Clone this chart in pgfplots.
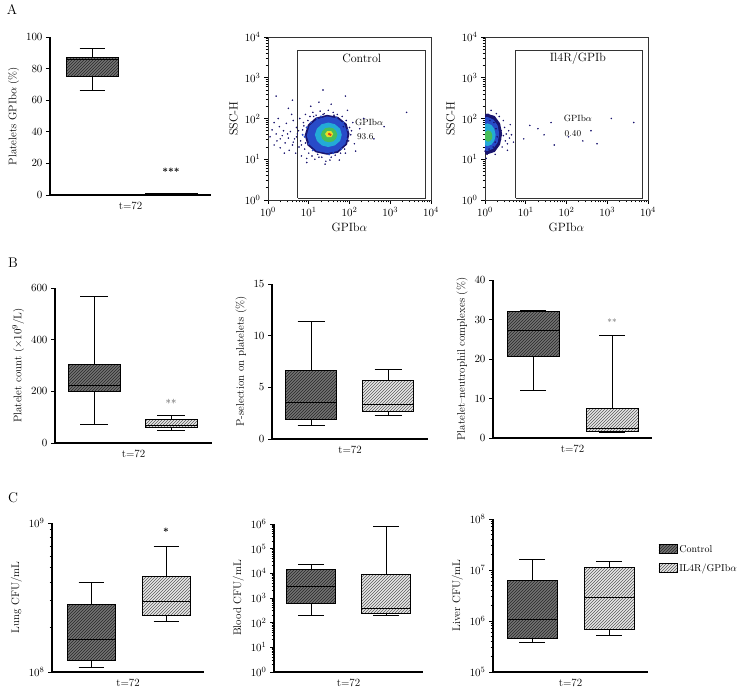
\documentclass[border=0pt]{standalone}
\usepackage{pgfplots}
\pgfplotsset{compat=1.18}
\usepgfplotslibrary{statistics}
\usetikzlibrary{patterns}

\definecolor{ctrlfill}{RGB}{115,115,115}
\definecolor{ctrlline}{RGB}{40,40,40}
\definecolor{ilfill}{RGB}{232,232,232}
\definecolor{illine}{RGB}{90,90,90}
\definecolor{flownavy}{RGB}{25,20,110}
\definecolor{flowblue}{RGB}{40,75,200}
\definecolor{flowcyan}{RGB}{35,170,215}
\definecolor{flowgreen}{RGB}{70,190,90}
\definecolor{flowyellow}{RGB}{235,220,40}
\definecolor{flowred}{RGB}{220,60,30}

\tikzset{
  ctrlhatch/.style={postaction={pattern=north east lines, pattern color=ctrlline}},
  ilhatch/.style={postaction={pattern=north east lines, pattern color=illine}},
  ctrl/.style={draw=black, line width=1pt, solid, fill=ctrlfill},
  ilgp/.style={draw=black, line width=1pt, solid, fill=ilfill},
}

\pgfplotsset{
  panel/.style={scale only axis, clip=false, anchor=south west,
    font=\fontsize{11}{13}\selectfont,
    axis line style={line width=1.1pt},
    every tick/.style={line width=0.9pt, black},
    tick align=outside, major tick length=4pt, minor tick length=2.5pt},
  boxpanel/.style={panel, axis lines*=left, xtick=\empty, xlabel={t=72}, xmin=0,
    boxplot/draw direction=y},
  cbox/.style={ctrl, boxplot/every box/.append style={ctrlhatch}},
  ibox/.style={ilgp, boxplot/every box/.append style={ilhatch}},
  flowpanel/.style={panel, clip=true, xmin=0, xmax=4, ymin=0, ymax=4,
    xtick={0,1,2,3,4}, ytick={0,1,2,3,4},
    xticklabels={$10^0$,$10^1$,$10^2$,$10^3$,$10^4$},
    yticklabels={$10^0$,$10^1$,$10^2$,$10^3$,$10^4$},
    minor xtick={0.301,0.477,0.602,0.699,0.778,0.845,0.903,0.954,
      1.301,1.477,1.602,1.699,1.778,1.845,1.903,1.954,
      2.301,2.477,2.602,2.699,2.778,2.845,2.903,2.954,
      3.301,3.477,3.602,3.699,3.778,3.845,3.903,3.954},
    minor ytick={0.301,0.477,0.602,0.699,0.778,0.845,0.903,0.954,
      1.301,1.477,1.602,1.699,1.778,1.845,1.903,1.954,
      2.301,2.477,2.602,2.699,2.778,2.845,2.903,2.954,
      3.301,3.477,3.602,3.699,3.778,3.845,3.903,3.954},
    tick pos=left, axis line style={line width=0.8pt, black!80},
    xlabel={GPIb$\alpha$}, ylabel={SSC-H},
    label style={font=\fontsize{12}{14}\selectfont}},
  dots/.style={only marks, mark=*, mark size=0.55pt},
}

\begin{document}
\begin{tikzpicture}
\useasboundingbox (0,0) rectangle (746pt,693pt);

\node[font=\fontsize{14}{16}\selectfont] at (12pt,683pt) {A};
\node[font=\fontsize{14}{16}\selectfont] at (13pt,430pt) {B};
\node[font=\fontsize{14}{16}\selectfont] at (13pt,195pt) {C};

% ---------- A: GPIb alpha on platelets
\begin{axis}[boxpanel, at={(50pt,498pt)}, width=161pt, height=158pt,
  xmax=161, ymin=0, ymax=100, ytick={0,20,40,60,80,100},
  ylabel={Platelets GPIb$\alpha$ (\%)}]
\addplot[cbox, boxplot prepared={draw position=42, box extend=52, whisker extend=25,
  lower whisker=66, lower quartile=75, median=85.5, upper quartile=87, upper whisker=93}] coordinates {};
\addplot[ilgp, fill=black, boxplot prepared={draw position=121, box extend=52, whisker extend=25,
  lower whisker=0.2, lower quartile=0.3, median=0.6, upper quartile=0.9, upper whisker=1.0}] coordinates {};
\node[font=\bfseries] at (axis cs:121,15) {***};
\end{axis}

% ---------- A: flow, control
\begin{axis}[flowpanel, at={(268pt,493pt)}, width=163pt, height=163pt]
\addplot[dots, flownavy] coordinates {
(0.05,1.55)(0.1,1.72)(0.15,1.35)(0.2,1.62)(0.22,1.45)(0.28,1.8)(0.3,1.28)(0.35,1.58)
(0.38,1.7)(0.42,1.4)(0.45,1.88)(0.5,1.52)(0.52,1.22)(0.55,1.68)(0.6,1.35)(0.62,1.95)
(0.65,1.5)(0.68,1.15)(0.7,1.78)(0.72,1.62)(0.76,1.3)(0.78,2.0)(0.8,1.45)(0.82,1.08)
(0.85,1.72)(0.87,1.9)(0.9,1.25)(0.92,2.1)(0.95,1.02)(0.98,1.95)(1.0,1.15)(1.03,2.05)
(1.08,1.08)(1.1,2.15)(1.15,1.0)(1.18,2.08)(1.22,1.12)(1.28,2.18)(1.32,1.05)(1.38,2.12)
(1.42,0.95)(1.48,2.2)(1.55,1.05)(1.6,2.15)(1.65,1.1)(1.7,2.1)(1.78,1.15)(1.82,2.05)
(1.88,1.25)(1.92,1.95)(1.98,1.45)(2.0,1.78)(2.03,1.6)(2.08,1.9)(2.12,1.38)(0.25,2.0)
(0.4,1.15)(0.58,2.1)(1.05,2.3)(1.55,2.35)(1.95,2.2)(2.25,1.75)(0.5,2.25)(1.25,2.4)
(2.35,2.0)(2.85,1.8)(3.4,2.15)(1.9,2.55)(0.15,1.9)(2.6,1.5)(1.4,0.88)(0.95,0.92)
(1.75,0.98)(2.15,1.2)(0.2,2.55)(1.35,2.7)(0.6,2.45)
(0.3,1.5)(0.48,1.62)(0.62,1.42)(0.7,1.55)(0.75,1.7)(0.82,1.35)(0.88,1.82)(0.92,1.4)
(1.12,2.05)(1.35,2.1)(1.62,2.08)(1.85,1.8)(2.05,1.7)(1.9,1.15)(1.25,1.05)(1.52,0.98)};
\addplot[fill=flownavy, draw=none] coordinates {
(2.0,1.62)(1.93,1.87)(1.72,2.04)(1.45,2.09)(1.17,2.02)(0.98,1.85)
(0.9,1.59)(0.97,1.34)(1.17,1.17)(1.45,1.11)(1.72,1.16)(1.94,1.36)};
\addplot[fill=flowblue, draw=none] coordinates {
(1.95,1.62)(1.88,1.85)(1.70,2.0)(1.45,2.05)(1.2,1.98)(1.02,1.82)
(0.95,1.58)(1.02,1.36)(1.2,1.2)(1.45,1.15)(1.7,1.2)(1.9,1.38)};
\addplot[dots, mark size=0.8pt, flowblue] coordinates {
(0.9,1.55)(0.95,1.78)(1.0,1.38)(1.05,1.9)(1.1,1.22)(1.3,2.05)(1.5,1.12)(1.68,2.02)
(1.8,1.25)(1.93,1.5)(1.95,1.72)(1.2,2.0)(1.6,1.15)(0.85,1.6)(1.85,1.9)};
\addplot[fill=flowcyan, draw=none] coordinates {
(1.81,1.6)(1.77,1.75)(1.64,1.86)(1.48,1.9)(1.32,1.86)(1.2,1.75)
(1.15,1.6)(1.2,1.45)(1.32,1.34)(1.48,1.3)(1.64,1.34)(1.77,1.45)};
\addplot[fill=flowgreen, draw=none] coordinates {
(1.7,1.6)(1.67,1.69)(1.6,1.76)(1.5,1.78)(1.4,1.76)(1.33,1.69)
(1.3,1.6)(1.33,1.51)(1.4,1.44)(1.5,1.42)(1.6,1.44)(1.67,1.51)};
\addplot[fill=flowyellow, draw=none] coordinates {
(1.6,1.62)(1.55,1.69)(1.45,1.69)(1.4,1.62)(1.45,1.54)(1.55,1.54)};
\addplot[dots, mark size=1pt, flowred] coordinates {(1.5,1.62)(1.53,1.6)};
\addplot[draw=black!80, line width=0.8pt] coordinates {
(0.73,0.05)(3.87,0.05)(3.87,3.68)(0.73,3.68)(0.73,0.05)};
\node[font=\fontsize{12}{14}\selectfont] at (axis cs:2.3,3.48) {Control};
\node[anchor=west, font=\fontsize{9}{11}\selectfont] at (axis cs:2.05,1.91) {GPIb$\alpha$};
\node[anchor=west, font=\fontsize{9}{11}\selectfont] at (axis cs:2.1,1.55) {93.6};
\end{axis}

% ---------- A: flow, IL4R/GPIb
\begin{axis}[flowpanel, at={(485pt,493pt)}, width=163pt, height=163pt]
\addplot[dots, flownavy] coordinates {
(0.0,1.2)(0.02,2.05)(0.05,1.12)(0.08,2.1)(0.1,1.25)(0.12,1.95)(0.15,1.18)(0.18,2.0)
(0.2,1.3)(0.22,1.9)(0.25,1.42)(0.27,1.75)(0.3,1.55)(0.32,1.35)(0.34,1.85)(0.36,1.62)
(0.38,1.48)(0.4,1.7)(0.42,1.3)(0.45,1.58)(0.48,1.78)(0.5,1.45)(0.52,1.62)(0.55,1.38)
(0.58,1.7)(0.6,1.52)(0.62,1.85)(0.65,1.6)(0.35,2.05)(0.25,1.12)(0.45,1.95)(0.7,1.42)
(0.03,1.02)(0.15,2.2)(0.55,1.22)(0.28,2.12)
(1.1,1.83)(1.3,1.75)(1.45,1.6)(1.62,1.9)(2.05,1.55)(2.6,1.7)(3.1,2.0)(3.65,1.9)
(1.7,1.35)(2.4,1.45)(2.75,1.38)(0.95,1.5)};
\addplot[fill=flownavy, draw=none] coordinates {
(0.42,1.62)(0.37,1.88)(0.24,2.06)(0.05,2.12)(-0.1,2.06)(-0.2,1.88)
(-0.25,1.62)(-0.2,1.36)(-0.1,1.18)(0.05,1.12)(0.24,1.18)(0.37,1.36)};
\addplot[fill=flowblue, draw=none] coordinates {
(0.35,1.62)(0.31,1.83)(0.2,1.98)(0.05,2.04)(-0.1,1.98)(-0.2,1.83)
(-0.25,1.62)(-0.2,1.41)(-0.1,1.26)(0.05,1.2)(0.2,1.26)(0.31,1.41)};
\addplot[fill=flowcyan, draw=none] coordinates {
(0.26,1.6)(0.23,1.74)(0.16,1.84)(0.06,1.88)(-0.04,1.84)(-0.11,1.74)
(-0.14,1.6)(-0.11,1.46)(-0.04,1.36)(0.06,1.32)(0.16,1.36)(0.23,1.46)};
\addplot[fill=flowgreen, draw=none] coordinates {
(0.18,1.57)(0.165,1.64)(0.13,1.69)(0.08,1.71)(0.03,1.69)(-0.005,1.64)
(-0.02,1.57)(-0.005,1.5)(0.03,1.45)(0.08,1.43)(0.13,1.45)(0.165,1.5)};
\addplot[draw=black!80, line width=0.8pt] coordinates {
(0.75,0.05)(3.87,0.05)(3.87,3.68)(0.75,3.68)(0.75,0.05)};
\node[font=\fontsize{12}{14}\selectfont] at (axis cs:2.28,3.48) {Il4R/GPIb};
\node[anchor=west, font=\fontsize{9}{11}\selectfont] at (axis cs:1.85,2.01) {GPIb$\alpha$};
\node[anchor=west, font=\fontsize{9}{11}\selectfont] at (axis cs:1.87,1.64) {0.40};
\end{axis}

% ---------- B: platelet count
\begin{axis}[boxpanel, at={(55pt,250pt)}, width=157pt, height=155pt,
  xmax=157, ymin=0, ymax=600, ytick={0,200,400,600},
  ylabel={Platelet count ($\times10^9$/L)}]
\addplot[cbox, boxplot prepared={draw position=39, box extend=52, whisker extend=28,
  lower whisker=72, lower quartile=198, median=223, upper quartile=305, upper whisker=568}] coordinates {};
\addplot[ibox, boxplot prepared={draw position=116, box extend=52, whisker extend=28,
  lower whisker=48, lower quartile=60, median=67, upper quartile=90, upper whisker=105}] coordinates {};
\node[text=black!70] at (axis cs:116,152) {**};
\end{axis}

% ---------- B: P-selectin
\begin{axis}[boxpanel, at={(272pt,254pt)}, width=156pt, height=155pt,
  xmax=156, ymin=0, ymax=15, ytick={0,5,10,15},
  ylabel={P-selection on platelets (\%)}]
\addplot[cbox, boxplot prepared={draw position=39, box extend=51, whisker extend=27,
  lower whisker=1.26, lower quartile=1.9, median=3.55, upper quartile=6.6, upper whisker=11.35}] coordinates {};
\addplot[ibox, boxplot prepared={draw position=116, box extend=51, whisker extend=27,
  lower whisker=2.29, lower quartile=2.7, median=3.32, upper quartile=5.7, upper whisker=6.75}] coordinates {};
\end{axis}

% ---------- B: platelet-neutrophil complexes
\begin{axis}[boxpanel, at={(493pt,255pt)}, width=159pt, height=158pt,
  xmax=159, ymin=0, ymax=40, ytick={0,10,20,30,40},
  ylabel={Platelet--neutrophil complexes (\%)}]
\addplot[cbox, boxplot prepared={draw position=40, box extend=52, whisker extend=26,
  lower whisker=11.9, lower quartile=20.6, median=27.3, upper quartile=32.1, upper whisker=32.3}] coordinates {};
\addplot[ibox, boxplot prepared={draw position=119, box extend=52, whisker extend=26,
  lower whisker=1.34, lower quartile=1.6, median=2.28, upper quartile=7.5, upper whisker=26.0}] coordinates {};
\node[text=black!60, font=\fontsize{9}{11}\selectfont] at (axis cs:119,29.4) {**};
\end{axis}

% ---------- C: lung CFU (log10 units; x in units of 100pt)
\begin{axis}[boxpanel, at={(52pt,21pt)}, width=152pt, height=149pt,
  xmax=1.52, ymin=8, ymax=9, ytick={8,9}, yticklabels={$10^8$,$10^9$},
  minor ytick={8.301,8.477,8.602,8.699,8.778,8.845,8.903,8.954},
  ylabel={Lung CFU/mL}]
\addplot[cbox, boxplot prepared={draw position=0.39, box extend=0.48, whisker extend=0.25,
  lower whisker=8.029, lower quartile=8.08, median=8.221, upper quartile=8.455, upper whisker=8.60}] coordinates {};
\addplot[ibox, boxplot prepared={draw position=1.14, box extend=0.48, whisker extend=0.25,
  lower whisker=8.342, lower quartile=8.382, median=8.471, upper quartile=8.638, upper whisker=8.844}] coordinates {};
\node[font=\bfseries] at (axis cs:1.14,8.94) {*};
\end{axis}

% ---------- C: blood CFU
\begin{axis}[boxpanel, at={(274pt,21pt)}, width=149pt, height=148pt,
  xmax=149, ymin=0, ymax=6, ytick={0,1,2,3,4,5,6},
  yticklabels={$10^0$,$10^1$,$10^2$,$10^3$,$10^4$,$10^5$,$10^6$},
  minor ytick={0.301,0.477,0.602,0.699,0.778,0.845,0.903,0.954,
    1.301,1.477,1.602,1.699,1.778,1.845,1.903,1.954,
    2.301,2.477,2.602,2.699,2.778,2.845,2.903,2.954,
    3.301,3.477,3.602,3.699,3.778,3.845,3.903,3.954,
    4.301,4.477,4.602,4.699,4.778,4.845,4.903,4.954,
    5.301,5.477,5.602,5.699,5.778,5.845,5.903,5.954},
  ylabel={Blood CFU/mL}]
\addplot[cbox, boxplot prepared={draw position=37, box extend=49, whisker extend=26,
  lower whisker=2.29, lower quartile=2.77, median=3.47, upper quartile=4.17, upper whisker=4.37}] coordinates {};
\addplot[ibox, boxplot prepared={draw position=112, box extend=49, whisker extend=26,
  lower whisker=2.28, lower quartile=2.39, median=2.59, upper quartile=3.97, upper whisker=5.9}] coordinates {};
\end{axis}

% ---------- C: liver CFU
\begin{axis}[boxpanel, at={(493pt,21pt)}, width=155pt, height=153pt,
  xmax=155, ymin=5, ymax=8, ytick={5,6,7,8},
  yticklabels={$10^5$,$10^6$,$10^7$,$10^8$},
  minor ytick={5.301,5.477,5.602,5.699,5.778,5.845,5.903,5.954,
    6.301,6.477,6.602,6.699,6.778,6.845,6.903,6.954,
    7.301,7.477,7.602,7.699,7.778,7.845,7.903,7.954},
  ylabel={Liver CFU/mL},
  legend style={at={(1.06,0.85)}, anchor=north west, draw=none, fill=none,
    row sep=6pt, inner sep=1pt, font=\fontsize{10}{12}\selectfont},
  legend cell align=left,
  legend image code/.code={\draw[#1] (0pt,-4pt) rectangle (18pt,5pt);}]
\addlegendimage{ctrl, ctrlhatch, line width=0.8pt}
\addlegendentry{Control}
\addlegendimage{ilgp, ilhatch, line width=0.8pt}
\addlegendentry{IL4R/GPIb$\alpha$}
\addplot[cbox, forget plot, boxplot prepared={draw position=39, box extend=50, whisker extend=26,
  lower whisker=5.58, lower quartile=5.657, median=6.03, upper quartile=6.785, upper whisker=7.2}] coordinates {};
\addplot[ibox, forget plot, boxplot prepared={draw position=116, box extend=50, whisker extend=26,
  lower whisker=5.71, lower quartile=5.835, median=6.457, upper quartile=7.05, upper whisker=7.165}] coordinates {};
\end{axis}
\end{tikzpicture}
\end{document}
